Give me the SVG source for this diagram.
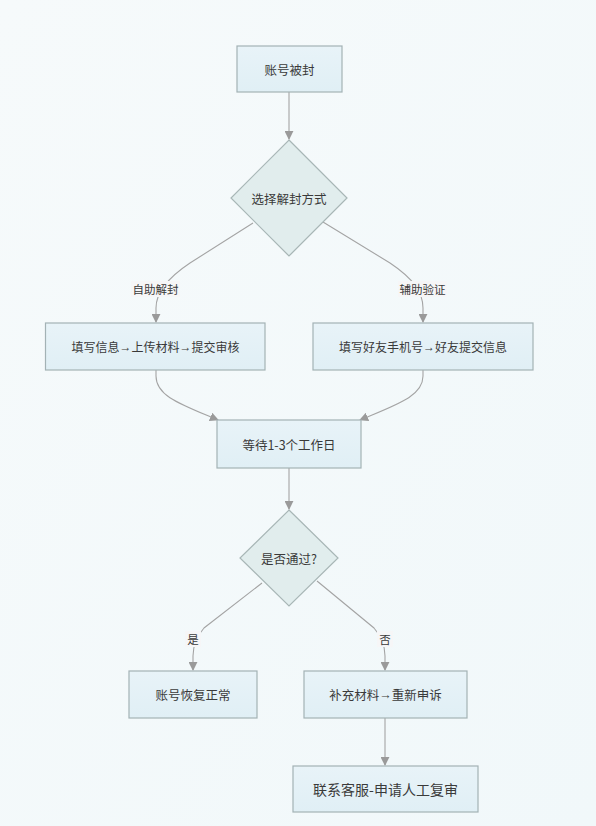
<svg xmlns="http://www.w3.org/2000/svg" width="596" height="826" viewBox="0 0 596 826">
  <defs>
    <linearGradient id="bg" x1="0" y1="0" x2="1" y2="1">
      <stop offset="0" stop-color="#f6fafb"/>
      <stop offset="1" stop-color="#f1f8fa"/>
    </linearGradient>
    <linearGradient id="boxfill" x1="0" y1="0" x2="0" y2="1">
      <stop offset="0" stop-color="#e8f3f8"/>
      <stop offset="1" stop-color="#e0eff5"/>
    </linearGradient>
    <marker id="arr" viewBox="0 0 10 10" refX="9" refY="5" markerWidth="9" markerHeight="9" markerUnits="userSpaceOnUse" orient="auto">
      <path d="M0,0 L10,5 L0,10 z" fill="#9a9a9a"/>
    </marker>
    <style>
      .box { fill: url(#boxfill); stroke: #a3b2b5; stroke-width: 1.2; }
      .dia { fill: #e1eded; stroke: #a8b6b6; stroke-width: 1.2; }
      .t { font-family: "Noto Sans CJK SC", "Noto Sans", sans-serif; font-size: 12.5px; fill: #3a3a3a; text-anchor: middle; dominant-baseline: central; }
      .w { font-size: 12px; }
      .arrow { font-family: "Liberation Sans", sans-serif; }
      .big { font-size: 14px; }
      .lbl { font-family: "Noto Sans CJK SC", "Noto Sans", sans-serif; font-size: 11.5px; fill: #3a3a3a; text-anchor: middle; dominant-baseline: central; }
      .lblbg { fill: #f6f6f7; }
      .edge { fill: none; stroke: #a4a4a4; stroke-width: 1.1; marker-end: url(#arr); }
    </style>
  </defs>
  <rect width="596" height="826" fill="url(#bg)"/>

  <g id="connectors">
    <path class="edge" d="M289,92 L289,139"/>
    <path class="edge" d="M253,223 L190,263 C166,279 156,293 156,308 L156,322"/>
    <path class="edge" d="M323,222 L390,263 C414,279 423,293 423,308 L423,322"/>
    <path class="edge" d="M156,370 L156,376 C156,396 180,404 218,420"/>
    <path class="edge" d="M423,370 L423,376 C423,396 398,404 360,420"/>
    <path class="edge" d="M289,468 L289,509"/>
    <path class="edge" d="M262,583 L204,628 C197,636 193,646 193,656 L193,670"/>
    <path class="edge" d="M317,581 L374,628 C381,636 385,646 385,656 L385,670"/>
    <path class="edge" d="M385,718 L385,765"/>
  </g>

  <g id="edge-labels">
    <rect class="lblbg" x="131" y="281" width="49" height="16"/>
    <text class="lbl" x="155.5" y="289">自助解封</text>
    <rect class="lblbg" x="398" y="281" width="49" height="16"/>
    <text class="lbl" x="422.5" y="289">辅助验证</text>
    <rect class="lblbg" x="185" y="631" width="16" height="16"/>
    <text class="lbl" x="193" y="639">是</text>
    <rect class="lblbg" x="377" y="631" width="16" height="16"/>
    <text class="lbl" x="385" y="639">否</text>
  </g>

  <g id="n-banned">
    <rect class="box" x="237" y="46" width="105" height="46"/>
    <text class="t" x="289.5" y="69">账号被封</text>
  </g>

  <g id="n-choose">
    <polygon class="dia" points="289,140 347,198 289,256 231,198"/>
    <text class="t" x="289" y="198">选择解封方式</text>
  </g>

  <g id="n-self">
    <rect class="box" x="45.5" y="323" width="219.5" height="47"/>
    <text class="t w" x="155.5" y="346.5">填写信息<tspan class="arrow">→</tspan>上传材料<tspan class="arrow">→</tspan>提交审核</text>
  </g>

  <g id="n-assist">
    <rect class="box" x="313" y="323" width="220" height="47"/>
    <text class="t w" x="423" y="346.5">填写好友手机号<tspan class="arrow">→</tspan>好友提交信息</text>
  </g>

  <g id="n-wait">
    <rect class="box" x="217" y="420" width="144" height="48"/>
    <text class="t" x="289" y="444">等待1-3个工作日</text>
  </g>

  <g id="n-pass">
    <polygon class="dia" points="289,510 338,558 289,606 240,558"/>
    <text class="t" x="289" y="558">是否通过?</text>
  </g>

  <g id="n-restored">
    <rect class="box" x="129" y="671" width="128" height="47"/>
    <text class="t" x="193" y="694.5">账号恢复正常</text>
  </g>

  <g id="n-resubmit">
    <rect class="box" x="304" y="671" width="163" height="47"/>
    <text class="t" x="385.5" y="694.5">补充材料<tspan class="arrow">→</tspan>重新申诉</text>
  </g>

  <g id="n-support">
    <rect class="box" x="293" y="766" width="185" height="46"/>
    <text class="t big" x="385.5" y="789">联系客服-申请人工复审</text>
  </g>
</svg>
